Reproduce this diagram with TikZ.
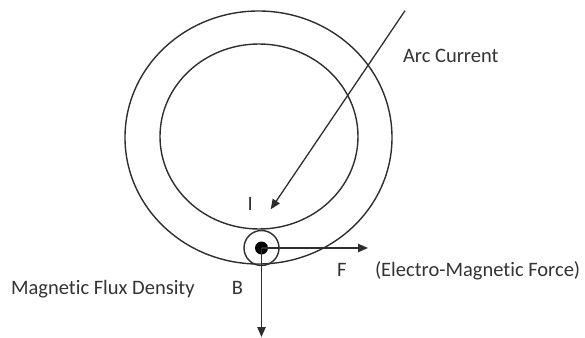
\documentclass[tikz,border=0pt]{standalone}
\usepackage{fontspec}
\setmainfont{Carlito}[Ligatures={NoCommon}]
\usetikzlibrary{arrows.meta,positioning}
\definecolor{ink}{HTML}{2E2E2E}
\definecolor{txt}{HTML}{333333}
\tikzset{
  ring/.style={draw=ink, line width=0.7pt},
  loopring/.style={circle, draw=ink, line width=0.7pt, minimum size=17.5pt, inner sep=0pt},
  dot/.style={circle, fill=black, minimum size=6.5pt, inner sep=0pt},
  arrow/.style={-{Triangle[length=5pt, width=4.2pt]}, draw=ink, line width=0.65pt},
  label/.style={font=\fontsize{10.25}{12}\selectfont, text=txt, inner sep=0pt, anchor=base west}
}

\begin{document}
\begin{tikzpicture}[x=0.5pt, y=-0.5pt]
\useasboundingbox (0,0) rectangle (585,338);
% arc column seen from above
\draw[ring] (258.5,137.5) circle [x radius=133.5, y radius=126.5];
\draw[ring] (259,136.5) circle [x radius=99, y radius=92.5];
\node[loopring] (loop) at (261.5,248) {};
\node[dot] (wire) at (261.5,248) {};
\coordinate (arcstart) at (405,10.7);
\coordinate (arctip) at (270.7,209.3);
\coordinate (ftip) at (368,248);
\coordinate (btip) at (261.5,337);
\draw[arrow] (arcstart) -- (arctip);
\draw[arrow] (wire.center) -- (ftip);
\draw[arrow] (wire.center) -- (btip);
% labels
\node[label] (arclbl) at (402.7,62.7) {Arc Current};
\node[label] (ilbl) at (247.2,210) {I};
\node[label] (flbl) at (336.7,276.7) {F};
\node[label, base right=13.85pt of flbl] (forcelbl) {(Electro-Magnetic Force)};
\node[label] (fluxlbl) at (10.7,294.3) {Magnetic Flux Density};
\node[label, base right=18.15pt of fluxlbl] (blbl) {B};
\end{tikzpicture}
\end{document}
